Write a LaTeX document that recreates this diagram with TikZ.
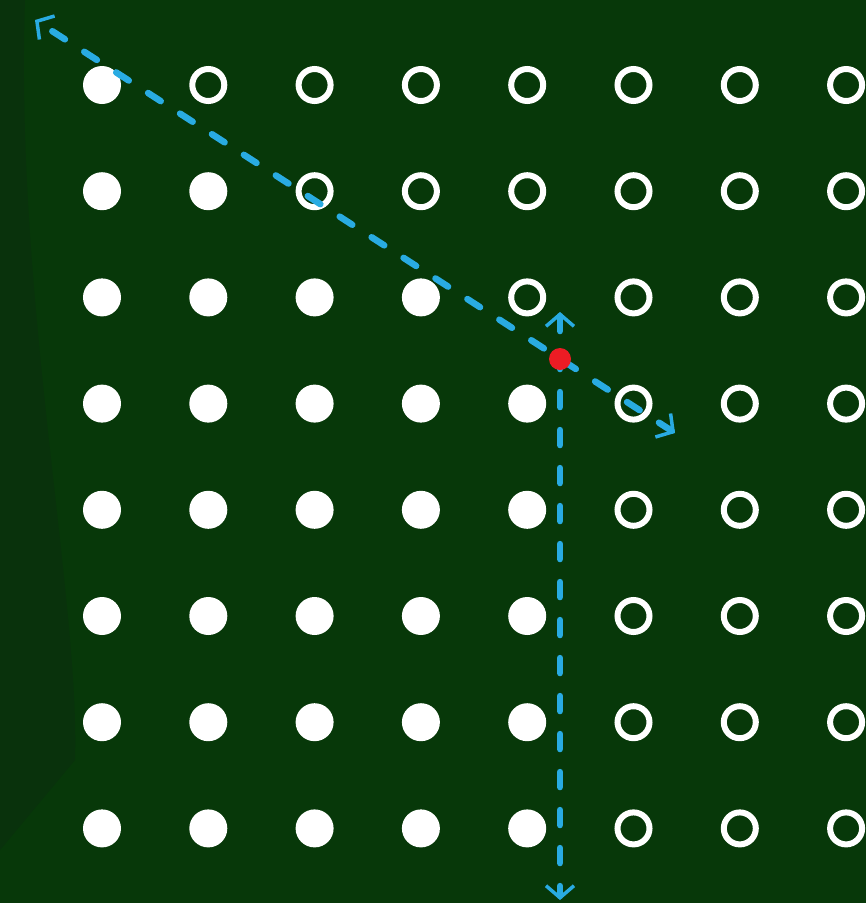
\documentclass[tikz,border=0pt]{standalone}
\usetikzlibrary{arrows.meta}
\definecolor{bg}{RGB}{7,56,9}
\definecolor{bgdark}{RGB}{9,50,12}
\definecolor{ray}{RGB}{41,171,226}
\definecolor{hit}{RGB}{237,28,36}
\tikzset{
  full/.style={circle,fill=white,minimum size=38pt,inner sep=0pt,draw=none},
  empty/.style={circle,draw=white,line width=6pt,minimum size=32pt,inner sep=0pt},
  rayline/.style={draw=ray,line width=6.5pt,line cap=round,dash pattern=on 15pt off 23pt,
    {Straight Barb[length=12pt,width=28pt,line width=3.5pt]}-{Straight Barb[length=12pt,width=28pt,line width=3.5pt]}},
  hitdot/.style={circle,fill=hit,minimum size=22pt,inner sep=0pt}
}
\begin{document}
\begin{tikzpicture}[x=1pt,y=-1pt]
\useasboundingbox (0,0) rectangle (866,903);
\fill[bg] (0,0) rectangle (866,903);
\fill[bgdark] (0,0) -- (25,0) .. controls (15,300) and (80,600) .. (75,760) -- (0,850) -- cycle;
% counts of filled dots per row
\foreach \r/\n in {0/1,1/2,2/4,3/5,4/5,5/5,6/5,7/5}{
  \foreach \c in {0,...,7}{
    \pgfmathsetmacro{\xx}{102+106.3*\c}
    \pgfmathsetmacro{\yy}{85+106.2*\r}
    \ifnum\c<\n
      \node[full] (d-\r-\c) at (\xx,\yy) {};
    \else
      \node[empty] (d-\r-\c) at (\xx,\yy) {};
    \fi
  }
}
\coordinate (a1) at (35,20);
\coordinate (a2) at (675,433);
\coordinate (v1) at (560,312);
\coordinate (v2) at (560,900);
\draw[rayline] (a2) -- (a1);
\draw[rayline] (v1) -- (v2);
\node[hitdot] (p) at (560,359) {};
\end{tikzpicture}
\end{document}
